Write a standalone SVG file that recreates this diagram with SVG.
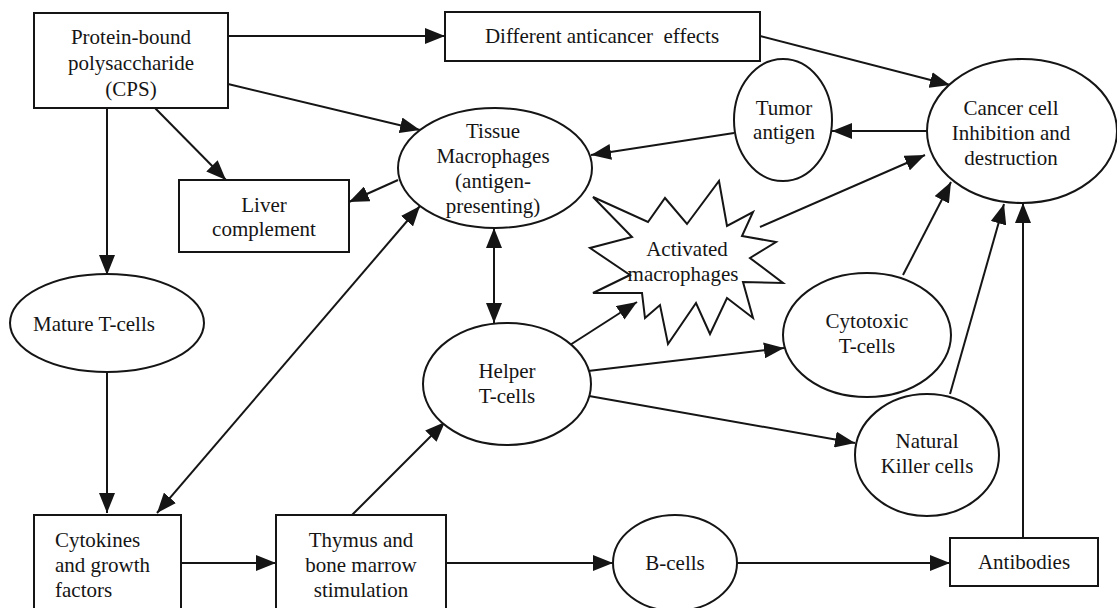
<svg xmlns="http://www.w3.org/2000/svg" width="1117" height="608" viewBox="0 0 1117 608">
<style>
.n{fill:#fff;stroke:#151515;stroke-width:2}
.t{font-family:"Liberation Serif","Times New Roman",serif;font-size:21px;fill:#151515;text-anchor:middle}
.l{text-anchor:start}
.c{fill:none;stroke:#151515;stroke-width:2}
</style>
<defs>
<marker id="ah" markerUnits="userSpaceOnUse" markerWidth="20" markerHeight="16" refX="20" refY="8" orient="auto-start-reverse" viewBox="0 0 20 16">
<path d="M0,0 L20,8 L0,16 z" fill="#151515"/>
</marker>
</defs>
<rect width="1117" height="608" fill="#fff"/>
<g id="connectors">
<line class="c" x1="228" y1="36" x2="445" y2="36" marker-end="url(#ah)"/>
<line class="c" x1="760" y1="36" x2="950" y2="85" marker-end="url(#ah)"/>
<line class="c" x1="228" y1="84" x2="420" y2="130" marker-end="url(#ah)"/>
<line class="c" x1="155" y1="108" x2="226" y2="180" marker-end="url(#ah)"/>
<line class="c" x1="398" y1="180" x2="349" y2="202" marker-end="url(#ah)"/>
<line class="c" x1="107" y1="108" x2="107" y2="275" marker-end="url(#ah)"/>
<line class="c" x1="107" y1="372" x2="107" y2="513" marker-end="url(#ah)"/>
<line class="c" x1="420" y1="206" x2="157" y2="513" marker-start="url(#ah)" marker-end="url(#ah)"/>
<line class="c" x1="494" y1="228" x2="494" y2="323" marker-start="url(#ah)" marker-end="url(#ah)"/>
<line class="c" x1="927" y1="131" x2="832" y2="131" marker-end="url(#ah)"/>
<line class="c" x1="734" y1="133" x2="591" y2="155" marker-end="url(#ah)"/>
<line class="c" x1="760" y1="227" x2="925" y2="155" marker-end="url(#ah)"/>
<line class="c" x1="903" y1="275" x2="951" y2="182" marker-end="url(#ah)"/>
<line class="c" x1="950" y1="394" x2="1004" y2="204" marker-end="url(#ah)"/>
<line class="c" x1="1023" y1="538" x2="1023" y2="203" marker-end="url(#ah)"/>
<line class="c" x1="570" y1="345" x2="637" y2="302" marker-end="url(#ah)"/>
<line class="c" x1="588" y1="371" x2="784" y2="348" marker-end="url(#ah)"/>
<line class="c" x1="589" y1="396" x2="855" y2="443" marker-end="url(#ah)"/>
<line class="c" x1="352" y1="515" x2="445" y2="422" marker-end="url(#ah)"/>
<line class="c" x1="181" y1="563" x2="276" y2="563" marker-end="url(#ah)"/>
<line class="c" x1="446" y1="563" x2="613" y2="563" marker-end="url(#ah)"/>
<line class="c" x1="737" y1="563" x2="950" y2="563" marker-end="url(#ah)"/>
</g>
<g id="cps">
<rect class="n" x="34" y="13" width="194" height="95"/>
<text class="t" x="131" y="44">Protein-bound</text>
<text class="t" x="131" y="70">polysaccharide</text>
<text class="t" x="131" y="96">(CPS)</text>
</g>
<g id="diff">
<rect class="n" x="445" y="12" width="315" height="49"/>
<text class="t" x="602" y="43" xml:space="preserve">Different anticancer  effects</text>
</g>
<g id="liver">
<rect class="n" x="179" y="180" width="170" height="72"/>
<text class="t" x="264" y="212">Liver</text>
<text class="t" x="264" y="236">complement</text>
</g>
<g id="tissue">
<ellipse class="n" cx="495" cy="168" rx="97" ry="60"/>
<text class="t" x="493" y="138">Tissue</text>
<text class="t" x="493" y="163">Macrophages</text>
<text class="t" x="493" y="188">(antigen-</text>
<text class="t" x="493" y="213">presenting)</text>
</g>
<g id="tumor">
<ellipse class="n" cx="783" cy="120" rx="49" ry="61"/>
<text class="t" x="784" y="115">Tumor</text>
<text class="t" x="784" y="139">antigen</text>
</g>
<g id="cancer">
<ellipse class="n" cx="1022" cy="131" rx="95" ry="72"/>
<text class="t" x="1011" y="115">Cancer cell</text>
<text class="t" x="1011" y="140">Inhibition and</text>
<text class="t" x="1011" y="165">destruction</text>
</g>
<g id="activated">
<polygon class="n" points="593,197 648,222 665,198 687,224 719,181 727,226 753,212 742,236 776,242 750,258 783,283 743,282 753,318 727,298 710,334 696,303 668,344 660,305 645,318 642,293 593,293 630,275 590,248 632,237"/>
<text class="t" x="687" y="256">Activated</text>
<text class="t" x="683" y="281">macrophages</text>
</g>
<g id="mature">
<ellipse class="n" cx="107" cy="323" rx="97" ry="49"/>
<text class="t" x="94" y="331">Mature T-cells</text>
</g>
<g id="helper">
<ellipse class="n" cx="507" cy="384" rx="84" ry="61"/>
<text class="t" x="507" y="378">Helper</text>
<text class="t" x="507" y="403">T-cells</text>
</g>
<g id="cytotoxic">
<ellipse class="n" cx="867" cy="335" rx="84" ry="62"/>
<text class="t" x="867" y="328">Cytotoxic</text>
<text class="t" x="867" y="353">T-cells</text>
</g>
<g id="nk">
<ellipse class="n" cx="927" cy="455" rx="72" ry="61"/>
<text class="t" x="927" y="448">Natural</text>
<text class="t" x="927" y="473">Killer cells</text>
</g>
<g id="cytokines">
<rect class="n" x="34" y="515" width="147" height="100"/>
<text class="t l" x="55" y="547">Cytokines</text>
<text class="t l" x="55" y="572">and growth</text>
<text class="t l" x="55" y="597">factors</text>
</g>
<g id="thymus">
<rect class="n" x="276" y="515" width="170" height="100"/>
<text class="t" x="361" y="547">Thymus and</text>
<text class="t" x="361" y="572">bone marrow</text>
<text class="t" x="361" y="597">stimulation</text>
</g>
<g id="bcells">
<ellipse class="n" cx="675" cy="563" rx="62" ry="48"/>
<text class="t" x="675" y="570">B-cells</text>
</g>
<g id="antibodies">
<rect class="n" x="950" y="538" width="148" height="48"/>
<text class="t" x="1024" y="569">Antibodies</text>
</g>
</svg>
